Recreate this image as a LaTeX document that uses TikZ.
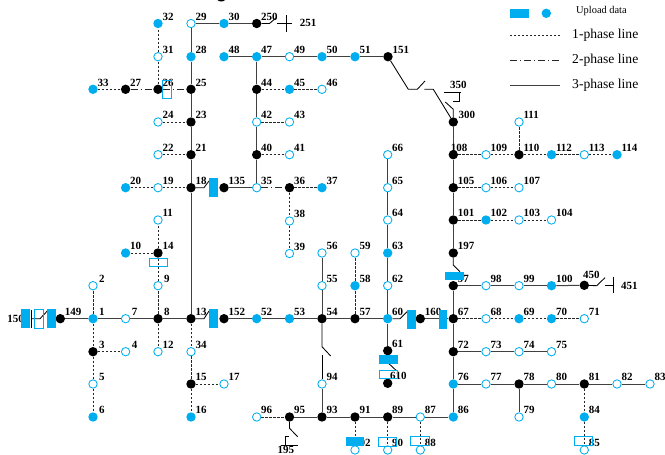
\documentclass[tikz,border=0pt]{standalone}
\usepackage{fontspec}
\setmainfont{Liberation Serif}
\usetikzlibrary{calc}
\definecolor{uploadblue}{HTML}{00AEEF}
\tikzset{
  busblack/.style={circle, fill=black, inner sep=0pt, minimum size=9.4pt},
  busblue/.style={circle, fill=uploadblue, inner sep=0pt, minimum size=9.4pt},
  busopen/.style={circle, draw=uploadblue, fill=white, line width=0.85pt, inner sep=0pt, minimum size=8.4pt},
  buslabel/.style={anchor=west, inner sep=0pt, font=\fontsize{11}{11}\selectfont\bfseries},
  legendtext/.style={anchor=west, inner sep=0pt, font=\fontsize{13.6}{13.6}\selectfont},
  phaseone/.style={line width=0.85pt, draw=black!85, dash pattern=on 2.4pt off 1.6pt},
  phasetwo/.style={line width=0.85pt, draw=black!85, dash pattern=on 7pt off 3pt on 1pt off 3pt},
  phasethree/.style={line width=1pt, draw=black!75},
  gear/.style={line width=0.85pt, draw=black},
  bluev/.style={fill=uploadblue, inner sep=0pt, minimum width=8.7pt, minimum height=18.7pt},
  blueh/.style={fill=uploadblue, inner sep=0pt, minimum width=18.7pt, minimum height=8.7pt},
  openv/.style={draw=uploadblue, line width=0.8pt, inner sep=0pt, minimum width=8.4pt, minimum height=18.4pt},
  openh/.style={draw=uploadblue, line width=0.8pt, inner sep=0pt, minimum width=18.4pt, minimum height=8.4pt},
}

\begin{document}
\begin{tikzpicture}[x=1pt, y=-1pt]
  \useasboundingbox (0,0) rectangle (665,455);

  % buses
  \foreach \id/\px/\py in {
    250/256.7/23.5, 27/125.6/89.3, 26/158/89.3, 25/191/89.3, 44/256.7/89.3, 151/388/56.7,
    23/191/122, 21/191/154.7, 40/256.7/154.7, 18/191/187.7, 135/224/187.7, 36/289.5/187.7,
    300/453.3/122, 108/453.3/154.7, 110/519/154.7, 105/453.3/187.7, 101/453.3/220,
    197/453.3/253, 14/158/253, 97/453.3/285.7, 450/584.3/285.3, 149/60.3/318.7, 8/158/318.7,
    13/191/318.7, 152/224/318.7, 54/322/318.7, 57/355/318.7, 160/420.3/318.7, 67/453.3/318.7,
    3/93/351.7, 61/387.7/350.7, 72/453.3/351.7, 15/191/384, 610/387.7/383.3, 78/519/384,
    81/584.3/384, 95/289.5/417, 93/322/417, 91/355/417, 89/387.7/417}
    \node[busblack] (n\id) at (\px,\py) {};
  \foreach \id/\px/\py in {
    32/158/23.5, 30/224/23.5, 28/191/56.7, 48/224/56.7, 47/256.7/56.7, 50/322/56.7, 51/355/56.7,
    33/93/89.3, 45/289.5/89.3, 112/551.5/154.7, 114/617/154.7, 20/125.6/187.7, 37/322/187.7,
    102/486/220, 10/125.6/253, 63/387.7/253, 58/355/285.7, 100/551.5/285.7, 1/93/318.7,
    52/256.7/318.7, 53/289.5/318.7, 60/387.7/318.7, 69/519/318.7, 70/551.5/318.7, 76/453.3/384,
    6/93/417, 16/191/417, 84/584.3/417, 86/453.3/417}
    \node[busblue] (n\id) at (\px,\py) {};
  \foreach \id/\px/\py in {
    29/191/23.5, 31/158/56.7, 49/289.5/56.7, 46/322/89.3, 24/158/122, 42/256.7/122, 43/289.5/122,
    111/519/122, 22/158/154.7, 41/289.5/154.7, 66/387.7/154.7, 109/486/154.7, 113/584.3/154.7,
    19/158/187.7, 35/256.7/187.7, 65/387.7/187.7, 106/486/187.7, 107/519/187.7,
    11/158/220, 38/289.5/221, 64/387.7/220, 103/519/220, 104/551.5/220,
    39/289.5/253.5, 56/322/253, 59/355/253, 2/93/285.7, 9/158/285.7, 55/322/285.7, 62/387.7/285.7,
    98/486/285.7, 99/519/285.7, 7/125.6/318.7, 68/486/318.7, 71/584.3/318.7,
    4/125.6/351.7, 12/158/351.7, 34/191/351.7, 73/486/351.7, 74/519/351.7, 75/551.5/351.7,
    5/93/384, 17/224/384, 94/322/384, 77/486/384, 80/551.5/384, 82/617/384, 83/650/384,
    96/256.7/417, 79/519/417, 87/420.3/417, 92/355/450, 90/387.7/450, 88/420.3/450, 85/584.3/450}
    \node[busopen] (n\id) at (\px,\py) {};

  % 3-phase lines
  \foreach \a/\b in {
    29/30, 30/250, 29/28, 28/25, 25/23, 23/21, 21/18, 18/13, 48/47, 47/49, 49/50, 50/51, 51/151,
    47/44, 44/42, 42/40, 40/35, 135/35, 149/1, 1/7, 7/8, 8/13, 152/52, 52/53, 53/54, 54/57, 57/60,
    54/55, 55/56, 60/62, 62/63, 63/64, 64/65, 65/66, 60/61, 300/108, 108/105, 105/101, 101/197,
    97/98, 98/99, 99/100, 100/450, 97/67, 67/72, 72/76, 76/86, 72/73, 73/74, 74/75,
    76/77, 77/78, 78/80, 80/81, 81/82, 82/83, 78/79, 86/87, 87/89, 89/91, 91/93, 93/95, 93/94, 160/67}
    \draw[phasethree] (n\a) -- (n\b);

  % 1-phase lines
  \foreach \a/\b in {
    33/27, 26/31, 31/32, 24/23, 22/21, 20/19, 19/18, 36/37, 36/38, 38/39, 44/45, 45/46, 42/43, 40/41,
    1/2, 1/3, 3/4, 3/5, 5/6, 8/9, 9/14, 14/11, 14/10, 8/12, 13/34, 34/15, 15/17, 15/16, 96/95,
    57/58, 58/59, 108/109, 109/110, 110/111, 110/112, 112/113, 113/114, 105/106, 106/107,
    101/102, 102/103, 103/104, 67/68, 68/69, 69/70, 70/71, 89/90, 91/92, 87/88, 81/84, 84/85}
    \draw[phaseone] (n\a) -- (n\b);

  % 2-phase lines
  \foreach \a/\b in {27/26, 26/25, 35/36}
    \draw[phasetwo] (n\a) -- (n\b);

  % switches and regulators
  \coordinate (s250a) at (269.5,23.5);
  \coordinate (s250b) at (276.5,17.5);
  \draw[gear] (n250) -- (s250a) -- (s250b);
  \coordinate (s251a) at (277.3,23.5);
  \coordinate (s251b) at (291.7,23.5);
  \coordinate (s251c) at (286,15);
  \coordinate (s251d) at (286,31.7);
  \draw[gear] (s251a) -- (s251b);
  \draw[gear] (s251c) -- (s251d);
  \coordinate (s18a) at (204,187.7);
  \coordinate (s18b) at (209,181);
  \draw[gear] (n18) -- (s18a) -- (s18b);
  \coordinate (s13a) at (204,318.7);
  \coordinate (s13b) at (209,311);
  \draw[gear] (n13) -- (s13a) -- (s13b);
  \coordinate (s60a) at (400,318.7);
  \coordinate (s60b) at (407,311.7);
  \draw[gear] (n60) -- (s60a) -- (s60b);
  \coordinate (s151a) at (408.3,89.3);
  \coordinate (s151b) at (417.3,89.3);
  \coordinate (s151c) at (425,81);
  \coordinate (s151d) at (424.3,89.3);
  \coordinate (s151e) at (433.3,89.3);
  \draw[gear] (n151) -- (s151a) -- (s151b) -- (s151c);
  \draw[gear] (s151d) -- (s151e) -- (n300);
  \coordinate (s350a) at (453.3,109.3);
  \coordinate (s350b) at (445.3,102);
  \draw[gear] (n300) -- (s350a) -- (s350b);
  \coordinate (s350c) at (444,92.7);
  \coordinate (s350d) at (460.7,92.7);
  \draw[gear] (s350c) -- (s350d);
  \coordinate (s350e) at (459.3,92.7);
  \coordinate (s350f) at (459.3,101.7);
  \coordinate (s350g) at (452.7,101.7);
  \draw[gear] (s350e) -- (s350f) -- (s350g);
  \coordinate (s197a) at (453.3,265);
  \coordinate (s197b) at (460,271.7);
  \draw[gear] (n197) -- (s197a) -- (s197b);
  \coordinate (s450a) at (596.7,285.7);
  \coordinate (s450b) at (605,277.7);
  \draw[gear] (n450) -- (s450a) -- (s450b);
  \coordinate (s451a) at (605,285.7);
  \coordinate (s451b) at (613.5,285.7);
  \coordinate (s451c) at (613.5,276.7);
  \coordinate (s451d) at (613.5,293.3);
  \draw[gear] (s451a) -- (s451b);
  \draw[gear] (s451c) -- (s451d);
  \coordinate (s61a) at (389,363.7);
  \coordinate (s61b) at (396,370.3);
  \draw[gear] (s61a) -- (s61b);
  \coordinate (s54a) at (322,346.7);
  \coordinate (s54b) at (330.7,356);
  \coordinate (s54c) at (322,355);
  \draw[gear] (n54) -- (s54a) -- (s54b);
  \draw[gear] (s54c) -- (n94);
  \coordinate (s95a) at (289.5,428.3);
  \coordinate (s95b) at (297.7,436.7);
  \draw[gear] (n95) -- (s95a) -- (s95b);
  \coordinate (s195a) at (281,445);
  \coordinate (s195b) at (298.3,445);
  \coordinate (s195c) at (285,445);
  \coordinate (s195d) at (285,436.7);
  \coordinate (s195e) at (289.3,436.7);
  \draw[gear] (s195a) -- (s195b);
  \draw[gear] (s195c) -- (s195d) -- (s195e);
  \coordinate (s150a) at (31.7,310);
  \coordinate (s150b) at (31.7,328);
  \coordinate (s150c) at (31.7,318.7);
  \coordinate (s150d) at (40,318.7);
  \coordinate (s150e) at (47.3,311);
  \draw[gear] (s150a) -- (s150b);
  \draw[gear] (s150c) -- (s150d) -- (s150e);
  \coordinate (s149a) at (47.3,318.7);
  \draw[gear] (n149) -- (s149a);

  % bus numbers
  \foreach \id in {
    32, 29, 30, 250, 31, 28, 48, 47, 49, 50, 51, 151, 33, 27, 26, 25, 44, 45, 46, 24, 23, 42, 43,
    111, 22, 21, 40, 41, 66, 109, 110, 112, 113, 114, 20, 19, 18, 135, 35, 36, 37, 65, 105, 106, 107,
    11, 38, 64, 101, 102, 103, 104, 10, 14, 39, 56, 59, 63, 197, 55, 58, 62, 97, 98, 99, 100,
    149, 13, 152, 52, 53, 54, 57, 60, 160, 67, 68, 69, 70, 71, 12, 34, 61, 72, 73, 74, 75,
    15, 17, 94, 76, 77, 78, 80, 81, 82, 83, 16, 96, 95, 93, 91, 89, 87, 86, 79, 84, 92, 90, 88, 85}
    \node[buslabel] (l\id) at ($(n\id)+(4.3,-6.7)$) {\id};
  \foreach \id in {1, 2, 3, 4, 5, 6, 7, 8, 9}
    \node[buslabel] (l\id) at ($(n\id)+(6,-6.7)$) {\id};
  \node[buslabel] (l108) at ($(n108)+(-2.7,-6.7)$) {108};
  \node[buslabel] (l300) at ($(n300)+(5,-7)$) {300};
  \node[buslabel] (l350) at (450,85) {350};
  \node[buslabel] (l251) at (299.7,23) {251};
  \node[buslabel] (l450) at (583,275) {450};
  \node[buslabel] (l451) at (621,286) {451};
  \node[buslabel] (l610) at (390,375.7) {610};
  \node[buslabel] (l195) at (277.5,450) {195};
  \node[buslabel] (l150) at (7.3,319) {150};

  % boxes
  \node[bluev] (r18) at (213.5,187.3) {};
  \node[bluev] (r13) at (213.5,318.7) {};
  \node[bluev] (r60) at (411.3,319.3) {};
  \node[bluev] (r160) at (443,319.3) {};
  \node[bluev] (r150a) at (25.7,318.7) {};
  \node[bluev] (r150b) at (51.7,318.7) {};
  \node[blueh] (r197) at (454.5,276) {};
  \node[blueh] (r61) at (388.5,359.5) {};
  \node[blueh] (r92) at (355,441.5) {};
  \node[openv] (o150) at (38.7,318.7) {};
  \node[openv] (o26) at (166.7,89.5) {};
  \node[openh] (o14) at (158.5,262.5) {};
  \node[openh] (o610) at (388.5,374.5) {};
  \node[openh] (o90) at (387.5,441.7) {};
  \node[openh] (o88) at (420,441) {};
  \node[openh] (o85) at (583.2,441) {};

  % piece of a bus cut by the top edge
  \coordinate (cuta) at (217.5,0);
  \coordinate (cutb) at (225,0);
  \fill (cuta) .. controls (219,2) and (223.5,2) .. (cutb) -- cycle;

  % legend
  \node[blueh] (keybox) at (519.7,13.3) {};
  \node[busblue] (keybus) at (546.3,13.3) {};
  \node[anchor=west, inner sep=0pt, font=\fontsize{10.4}{10.4}\selectfont] (keyup) at (576,11) {Upload data};
  \coordinate (key1a) at (510,35.7);
  \coordinate (key1b) at (560,35.7);
  \coordinate (key2a) at (510,60.3);
  \coordinate (key2b) at (560,60.3);
  \coordinate (key3a) at (510,85);
  \coordinate (key3b) at (560,85);
  \draw[phaseone] (key1a) -- (key1b);
  \draw[phasetwo] (key2a) -- (key2b);
  \draw[phasethree] (key3a) -- (key3b);
  \node[legendtext] (key1) at (572,35.7) {1-phase line};
  \node[legendtext] (key2) at (572,60.3) {2-phase line};
  \node[legendtext] (key3) at (572,85) {3-phase line};
\end{tikzpicture}
\end{document}
